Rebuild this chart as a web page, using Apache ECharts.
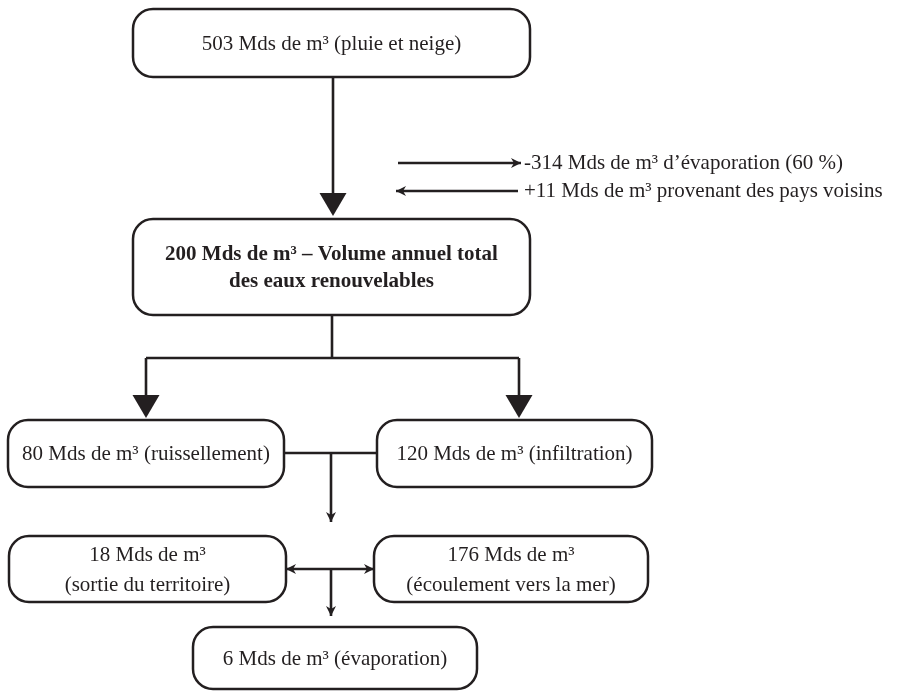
<!DOCTYPE html>
<html>
<head>
<meta charset="utf-8">
<script src="https://cdn.jsdelivr.net/npm/echarts@6/dist/echarts.min.js"></script>
<style>
html,body{margin:0;padding:0;background:#ffffff;}
#chart{width:899px;height:691px;}
</style>
</head>
<body>
<div id="chart"></div>
<script>
// ---- data ----
const volumes = [503, 200, 80, 120, 18, 176, 6];          // Mds de m³ in each box
const flowEvaporation = 314;                              // -314 Mds de m³
const flowEvaporationShare = 60;                          // %
const flowNeighbours = 11;                                // +11 Mds de m³
const boxCaptions = [
  volumes[0] + ' Mds de m³ (pluie et neige)',
  volumes[1] + ' Mds de m³ – Volume annuel total\ndes eaux renouvelables',
  volumes[2] + ' Mds de m³ (ruissellement)',
  volumes[3] + ' Mds de m³ (infiltration)',
  volumes[4] + ' Mds de m³\n(sortie du territoire)',
  volumes[5] + ' Mds de m³\n(écoulement vers la mer)',
  volumes[6] + ' Mds de m³ (évaporation)'
];
const sideCaptions = [
  '-' + flowEvaporation + ' Mds de m³ d’évaporation (' + flowEvaporationShare + ' %)',
  '+' + flowNeighbours + ' Mds de m³ provenant des pays voisins'
];

// ---- layout (diagram units) ----
const boxLayout = [
  [133, 9, 530, 77],
  [133, 219, 530, 315],
  [8, 420, 284, 487],
  [377, 420, 652, 487],
  [9, 536, 286, 602],
  [374, 536, 648, 602],
  [193, 627, 477, 689]
];
const boldBox = [false, true, false, false, false, false, false];
// segments: x0, y0, x1, y1, head (0 none, 1 big, 2 small end, 3 small both)
const segments = [
  [333, 77, 333, 216, 1],
  [398, 163, 521, 163, 2],
  [518, 191, 396, 191, 2],
  [332, 315, 332, 358, 0],
  [146, 358, 519, 358, 0],
  [146, 358, 146, 418, 1],
  [519, 358, 519, 418, 1],
  [284, 453, 377, 453, 0],
  [331, 453, 331, 522, 2],
  [286, 569, 374, 569, 3],
  [331, 569, 331, 616, 2]
];
const sideLayout = [[524, 163], [524, 191]];

const INK = '#231f20';
const FONT = '"Liberation Serif", "Times New Roman", serif';

function head(tip, dir, big) {
  const len = big ? 23 : 10, half = big ? 13.5 : 5, notch = big ? 0 : 3;
  const nx = -dir[1], ny = dir[0];
  const bx = tip[0] - dir[0] * len, by = tip[1] - dir[1] * len;
  const pts = [tip, [bx + nx * half, by + ny * half]];
  if (notch) pts.push([bx + dir[0] * notch, by + dir[1] * notch]);
  pts.push([bx - nx * half, by - ny * half]);
  return { type: 'polygon', shape: { points: pts }, style: { fill: INK } };
}

const chart = echarts.init(document.getElementById('chart'));
chart.setOption({
  animation: false,
  backgroundColor: '#ffffff',
  grid: { left: 0, right: 0, top: 0, bottom: 0 },
  xAxis: { type: 'value', min: 0, max: 899, show: false },
  yAxis: { type: 'value', min: 0, max: 691, inverse: true, show: false },
  series: [
    {
      type: 'custom',
      name: 'connectors',
      coordinateSystem: 'cartesian2d',
      data: segments,
      renderItem: function (params, api) {
        const a = api.coord([api.value(0), api.value(1)]);
        const b = api.coord([api.value(2), api.value(3)]);
        const h = api.value(4);
        const dx = b[0] - a[0], dy = b[1] - a[1];
        const L = Math.sqrt(dx * dx + dy * dy);
        const dir = [dx / L, dy / L];
        const children = [{
          type: 'line',
          shape: { x1: a[0], y1: a[1], x2: b[0] - (h === 1 ? dir[0] * 10 : 0), y2: b[1] - (h === 1 ? dir[1] * 10 : 0) },
          style: { stroke: INK, lineWidth: 2.6 }
        }];
        if (h === 1) children.push(head(b, dir, true));
        if (h === 2 || h === 3) children.push(head(b, dir, false));
        if (h === 3) children.push(head(a, [-dir[0], -dir[1]], false));
        return { type: 'group', children: children };
      }
    },
    {
      type: 'custom',
      name: 'boxes',
      coordinateSystem: 'cartesian2d',
      data: boxLayout,
      z: 3,
      renderItem: function (params, api) {
        const i = params.dataIndex;
        const p0 = api.coord([api.value(0), api.value(1)]);
        const p1 = api.coord([api.value(2), api.value(3)]);
        const w = p1[0] - p0[0], hgt = p1[1] - p0[1];
        return {
          type: 'group',
          children: [
            {
              type: 'rect',
              shape: { x: p0[0], y: p0[1], width: w, height: hgt, r: 20 },
              style: { fill: '#ffffff', stroke: INK, lineWidth: 2.5 }
            },
            {
              type: 'text',
              x: (p0[0] + p1[0]) / 2,
              y: (p0[1] + p1[1]) / 2 + 1,
              style: {
                text: boxCaptions[i],
                fill: INK,
                fontFamily: FONT,
                fontSize: 21,
                fontWeight: boldBox[i] ? 'bold' : 'normal',
                align: 'center',
                verticalAlign: 'middle',
                lineHeight: boldBox[i] ? 27 : 30
              }
            }
          ]
        };
      }
    },
    {
      type: 'custom',
      name: 'flows',
      coordinateSystem: 'cartesian2d',
      data: sideLayout,
      renderItem: function (params, api) {
        const p = api.coord([api.value(0), api.value(1)]);
        return {
          type: 'text',
          x: p[0], y: p[1],
          style: {
            text: sideCaptions[params.dataIndex],
            fill: INK,
            fontFamily: FONT,
            fontSize: 21,
            align: 'left',
            verticalAlign: 'middle'
          }
        };
      }
    }
  ]
});
</script>
</body>
</html>
